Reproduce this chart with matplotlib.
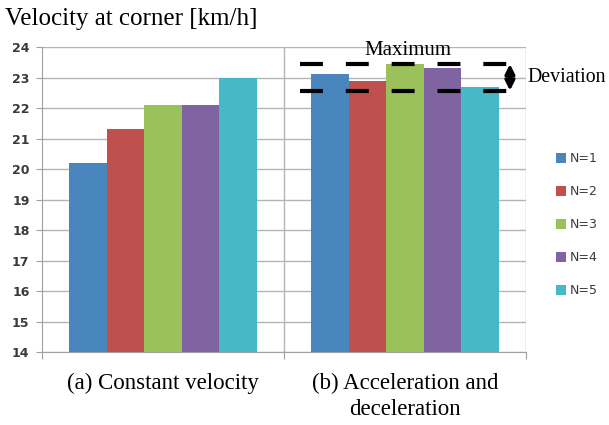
import matplotlib
matplotlib.use("Agg")
import matplotlib.pyplot as plt
import numpy as np

# data
groups = ["(a) Constant velocity", "(b) Acceleration and\ndeceleration"]
series = ["N=1", "N=2", "N=3", "N=4", "N=5"]
constant = [20.2, 21.3, 22.1, 22.1, 23.0]
accel = [23.1, 22.9, 23.45, 23.3, 22.7]
colors = ["#4A86BE", "#C0504D", "#9BC25A", "#8064A2", "#45B9C5"]
yticks = list(range(14, 25))
dev_top, dev_bottom = 23.44, 22.57

fig = plt.figure(figsize=(6.09, 4.25), dpi=100)
ax = fig.add_axes([42 / 609, 1 - 352 / 425, (526 - 42) / 609, (352 - 47) / 425])

width = 0.155
x = np.arange(len(groups))
for i, name in enumerate(series):
    vals = np.array([constant[i], accel[i]])
    ax.bar(x + (i - 2) * width, vals - 14, width, bottom=14,
           color=colors[i], label=name, zorder=3)

ax.set_xlim(-0.5, 1.5)
ax.set_ylim(14, 24)
ax.set_yticks(yticks)
ax.set_yticklabels([str(t) for t in yticks], fontsize=9, color="#3a3a3a",
                   fontweight="bold", family="DejaVu Sans")
ax.grid(axis="y", color="#b4b4b4", linewidth=1, zorder=0)

# group boundaries
ax.set_xticks([-0.5, 0.5, 1.5])
ax.set_xticklabels([])
ax.set_xticks(x, minor=True)
ax.set_xticklabels(groups, minor=True, fontsize=16.5, family="Liberation Serif",
                   linespacing=1.3)
ax.tick_params(axis="x", which="major", length=5, color="#a0a0a0")
ax.tick_params(axis="x", which="minor", length=0, pad=15)
ax.tick_params(axis="y", length=4, color="#a0a0a0", pad=5)
ax.axvline(0.5, color="#b4b4b4", linewidth=1, zorder=0)
ax.axvline(1.5, color="#b4b4b4", linewidth=1, zorder=0)

for side in ["top", "right"]:
    ax.spines[side].set_visible(False)
for side in ["left", "bottom"]:
    ax.spines[side].set_color("#a0a0a0")

# deviation annotation
x0 = -0.5 + (299 - 42) / 241
x1 = -0.5 + (517 - 42) / 241
for yv in (dev_top, dev_bottom):
    ax.plot([x0, x1], [yv, yv], color="black", linewidth=3,
            dashes=(5.5, 5.5), zorder=4, solid_capstyle="butt")
xa = -0.5 + (508 - 42) / 241
ax.annotate("", xy=(xa, dev_top), xytext=(xa, dev_bottom),
            arrowprops=dict(arrowstyle="<|-|>", color="black", lw=2.5,
                            mutation_scale=14, shrinkA=0, shrinkB=0), zorder=5)
ax.text(-0.5 + (406 - 42) / 241, 23.88, "Maximum", ha="center", va="center",
        fontsize=15, family="Liberation Serif", zorder=5)
ax.text(-0.5 + (525 - 42) / 241, (dev_top + dev_bottom) / 2, "Deviation",
        ha="left", va="center", fontsize=14.3, family="Liberation Serif",
        clip_on=False)

fig.text(5 / 609, 1 - 19 / 425, "Velocity at corner [km/h]", ha="left",
         va="center", fontsize=18, family="Liberation Serif")

leg = fig.legend(loc="upper left", bbox_to_anchor=(545 / 609, 1 - 141 / 425),
                 frameon=False, fontsize=9, handlelength=0.8, handleheight=0.8,
                 handletextpad=0.3, labelspacing=1.6)
for t in leg.get_texts():
    t.set_color("#3a3a3a")

fig.savefig("out.png", dpi=100)
